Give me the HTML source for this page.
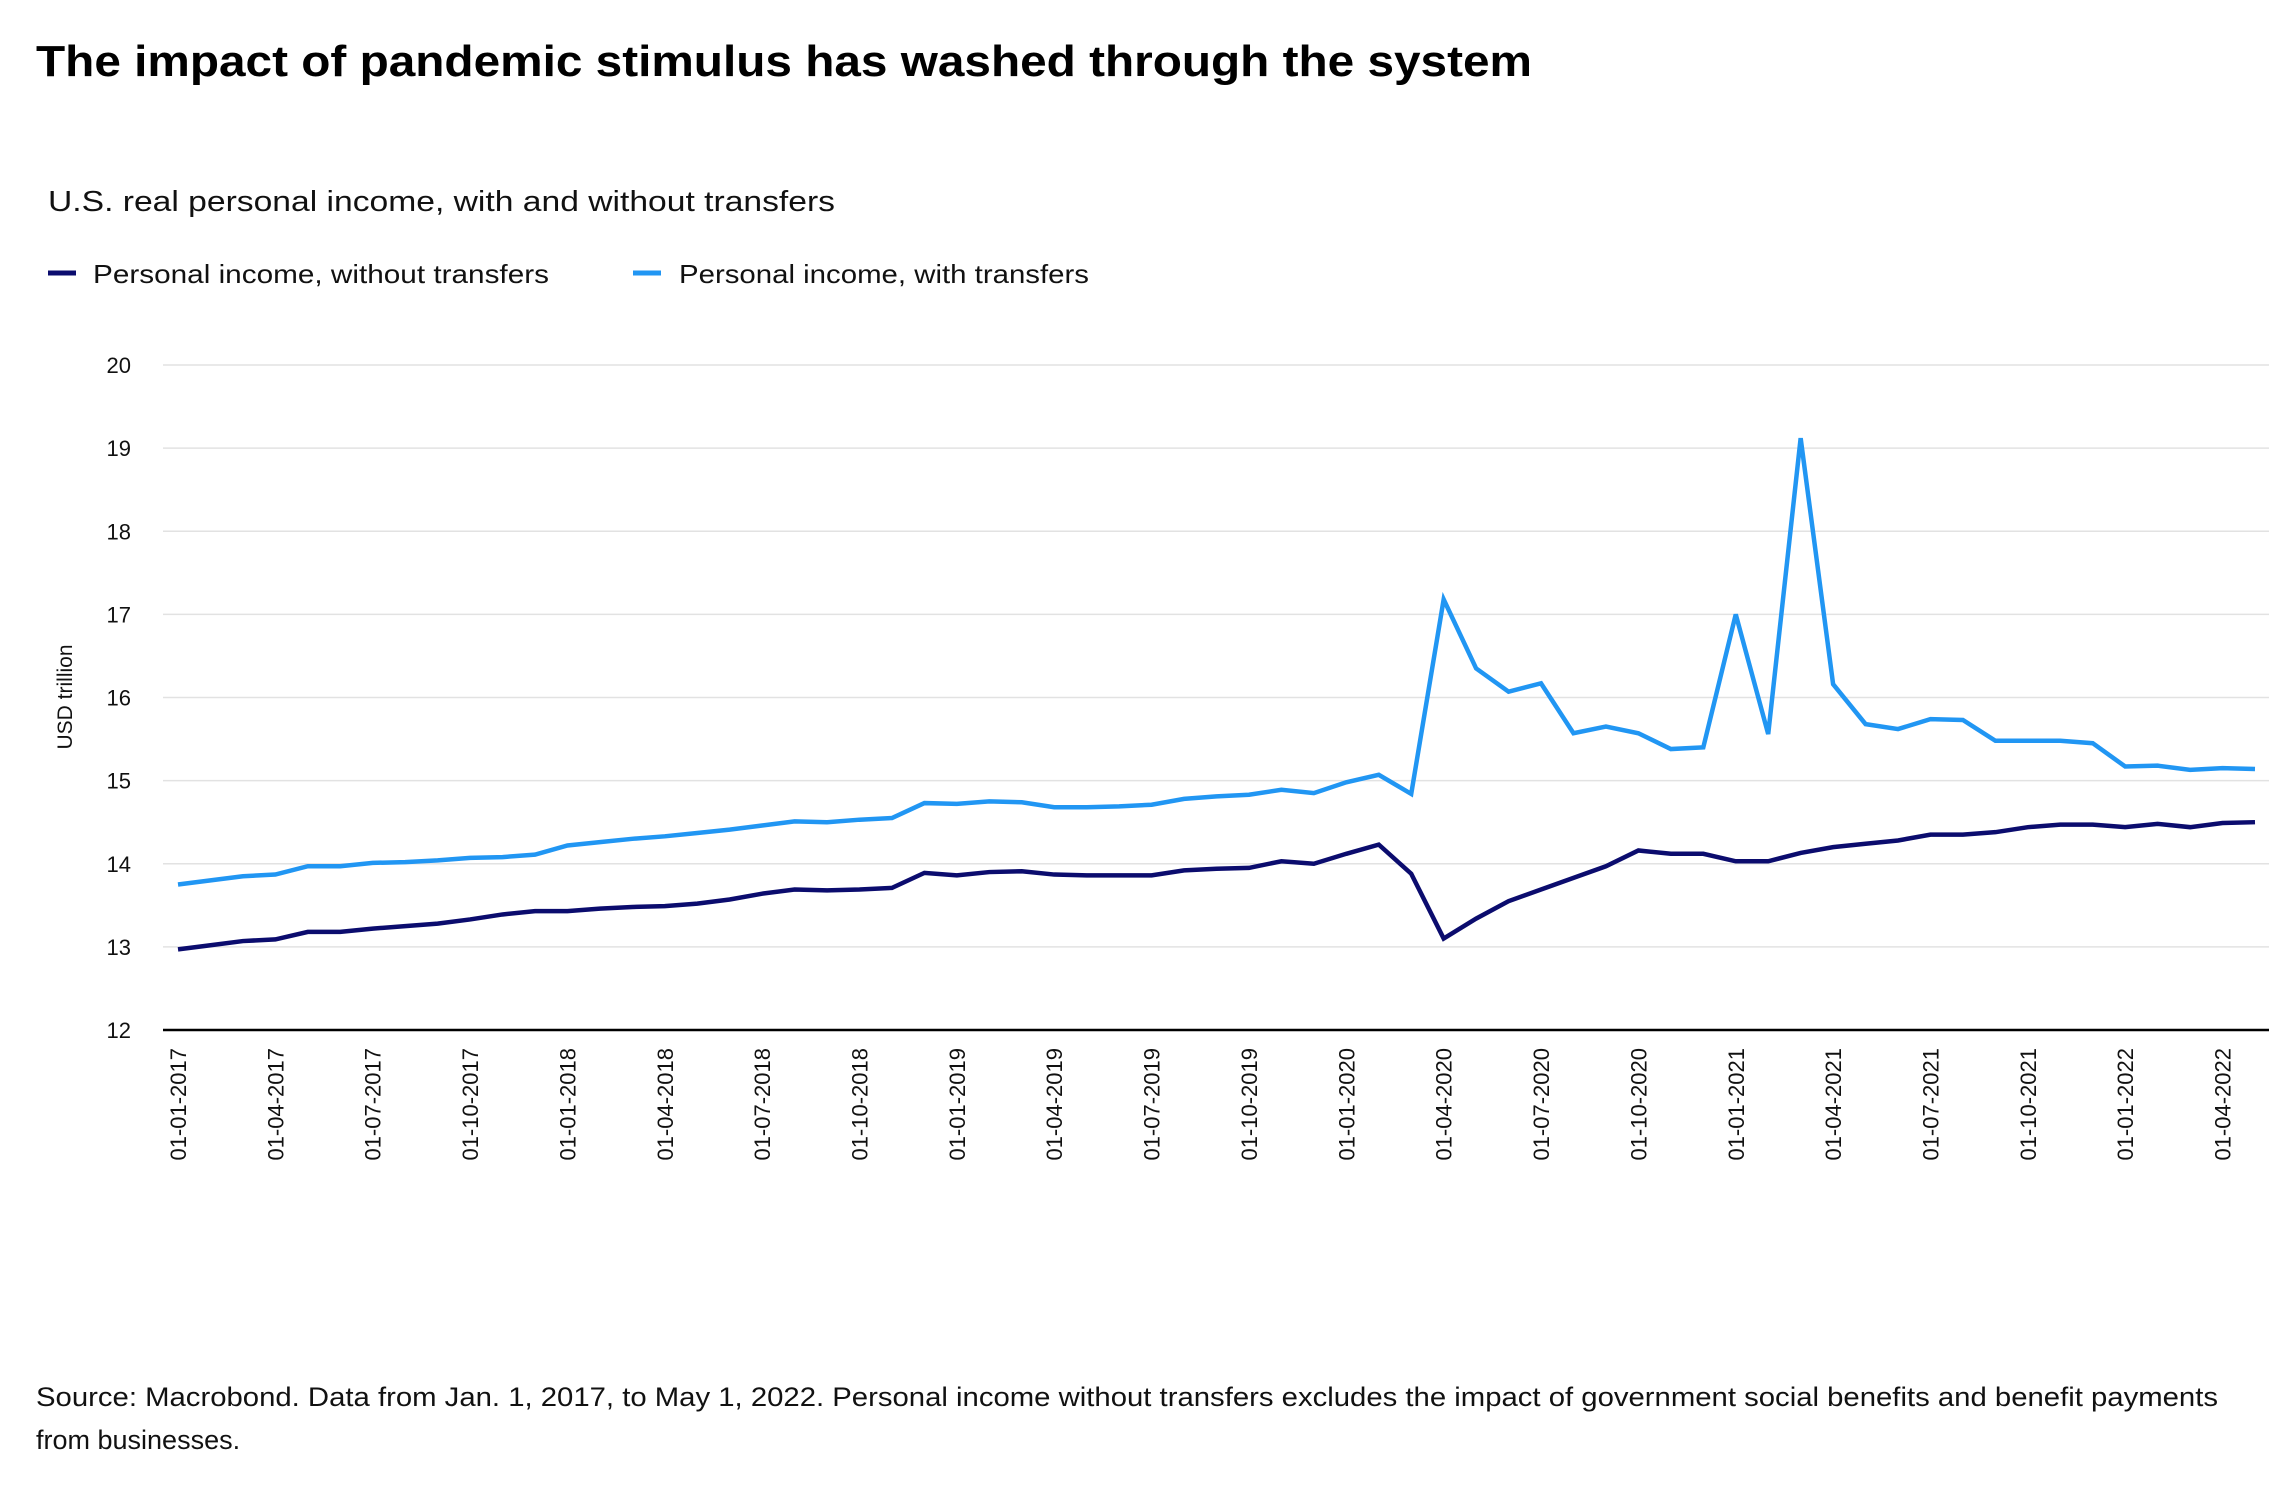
<!DOCTYPE html>
<html><head><meta charset="utf-8"><style>
html,body{margin:0;padding:0;background:#fff;}
svg{display:block;font-family:"Liberation Sans",sans-serif;}
</style></head><body>
<svg id="chart" width="2284" height="1500" viewBox="0 0 2284 1500" xmlns="http://www.w3.org/2000/svg">
<text x="36" y="76" font-size="44" font-weight="bold" fill="#000" textLength="1496" lengthAdjust="spacingAndGlyphs">The impact of pandemic stimulus has washed through the system</text>
<text x="48" y="211" font-size="29" fill="#111" textLength="787" lengthAdjust="spacingAndGlyphs">U.S. real personal income, with and without transfers</text>
<g>
<g>
<line x1="48" y1="273" x2="76" y2="273" stroke="#0b0c6e" stroke-width="5"/>
<text x="93" y="283" font-size="26" fill="#111" textLength="456" lengthAdjust="spacingAndGlyphs">Personal income, without transfers</text></g>
<g>
<line x1="633" y1="273" x2="661" y2="273" stroke="#2196f3" stroke-width="5"/>
<text x="679" y="283" font-size="26" fill="#111" textLength="410" lengthAdjust="spacingAndGlyphs">Personal income, with transfers</text></g>
</g>
<g id="grid"></g>
<g id="yticks"></g>
<text transform="translate(72,697) rotate(-90)" text-anchor="middle" font-size="21" fill="#111">USD trillion</text>
<g id="xticks"></g>
<g id="series"></g>
<text font-size="27" fill="#111"><tspan x="36" y="1406" textLength="2182" lengthAdjust="spacingAndGlyphs">Source: Macrobond. Data from Jan. 1, 2017, to May 1, 2022. Personal income without transfers excludes the impact of government social benefits and benefit payments</tspan><tspan x="36" y="1449">from businesses.</tspan></text>
</svg>
<script>
const yTicks = [12,13,14,15,16,17,18,19,20];
const startYear = 2017;
const withoutTransfers = [12.97,13.02,13.07,13.09,13.18,13.18,13.22,13.25,13.28,13.33,13.39,13.43,
13.43,13.46,13.48,13.49,13.52,13.57,13.64,13.69,13.68,13.69,13.71,13.89,
13.86,13.90,13.91,13.87,13.86,13.86,13.86,13.92,13.94,13.95,14.03,14.00,
14.12,14.23,13.88,13.10,13.34,13.55,13.69,13.83,13.97,14.16,14.12,14.12,
14.03,14.03,14.13,14.20,14.24,14.28,14.35,14.35,14.38,14.44,14.47,14.47,
14.44,14.48,14.44,14.49,14.50];
const withTransfers = [13.75,13.80,13.85,13.87,13.97,13.97,14.01,14.02,14.04,14.07,14.08,14.11,
14.22,14.26,14.30,14.33,14.37,14.41,14.46,14.51,14.50,14.53,14.55,14.73,
14.72,14.75,14.74,14.68,14.68,14.69,14.71,14.78,14.81,14.83,14.89,14.85,
14.98,15.07,14.84,17.18,16.35,16.07,16.17,15.57,15.65,15.57,15.38,15.40,
17.00,15.56,19.12,16.16,15.68,15.62,15.74,15.73,15.48,15.48,15.48,15.45,
15.17,15.18,15.13,15.15,15.14];

const NS = "http://www.w3.org/2000/svg";
const X0 = 178, X1 = 2255, Y0 = 1030, Y1 = 365;
const n = withTransfers.length;
function xs(i){ return X0 + (X1 - X0) * i / (n - 1); }
function ys(v){ return Y0 - (v - 12) / (20 - 12) * (Y0 - Y1); }
function mk(tag, attrs, parent){ const e = document.createElementNS(NS, tag); for (const k in attrs) e.setAttribute(k, attrs[k]); parent.appendChild(e); return e; }

const grid = document.getElementById('grid');
const yt = document.getElementById('yticks');
yTicks.forEach(v => {
  const l = mk('line', {x1:163, x2:2269, y1:ys(v), y2:ys(v), stroke: v===12 ? '#000' : '#e2e2e2', 'stroke-width': v===12 ? 2.5 : 1.5}, grid);
  
  
  const t = mk('text', {x:131, y:ys(v)+8, 'text-anchor':'end', 'font-size':22, fill:'#111'}, yt);
  t.textContent = v;
  
  
});
const xt = document.getElementById('xticks');
for (let i = 0; i < n; i += 3) {
  const m = i % 12 + 1, y = startYear + Math.floor(i / 12);
  const t = mk('text', {transform:`translate(${xs(i)+8},1048) rotate(-90)`, 'text-anchor':'end', 'font-size':22, fill:'#111'}, xt);
  t.textContent = '01-' + String(m).padStart(2,'0') + '-' + y;
  
  
}
const sg = document.getElementById('series');
[[withTransfers,'#2196f3','line-with-transfers'],[withoutTransfers,'#0b0c6e','line-without-transfers']].forEach(([d,c,name]) => {
  const p = mk('polyline', {points: d.map((v,i)=>xs(i)+','+ys(v)).join(' '), fill:'none', stroke:c, 'stroke-width':4.5, 'stroke-linejoin':'miter'}, sg);
  
  
});
</script>
</body></html>
